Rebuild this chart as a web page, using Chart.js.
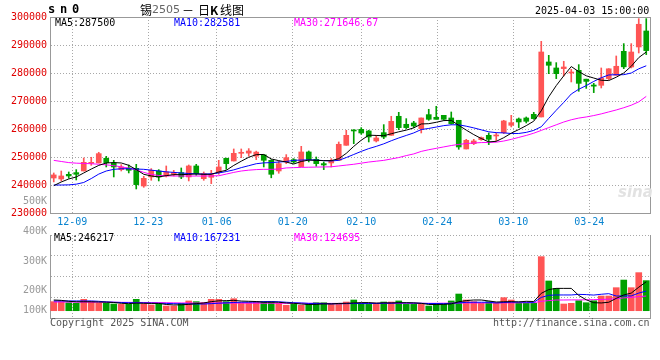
<!DOCTYPE html>
<html><head><meta charset="utf-8">
<script src="https://cdn.jsdelivr.net/npm/chart.js@4/dist/chart.umd.min.js"></script>
<style>
html,body{margin:0;padding:0;background:#fff;}
body{width:660px;height:360px;position:relative;overflow:hidden;font-family:"DejaVu Sans Mono",monospace;}
canvas{position:absolute;left:0;}
.t{position:absolute;white-space:nowrap;font-size:10px;line-height:12px;}
.cjk{position:absolute;white-space:nowrap;font-family:"Noto Sans CJK SC",sans-serif;font-size:12px;line-height:14px;}
</style></head><body>
<canvas id="main" width="660" height="231" style="top:0"></canvas>
<canvas id="vol" width="660" height="92" style="top:232px"></canvas>

<div class="t" style="left:48px;top:3px;font-size:12px;font-weight:bold;letter-spacing:-1.2px">s n 0</div>
<div class="cjk" style="left:140px;top:3px">锡</div>
<div class="t" style="left:152px;top:4px;font-family:'DejaVu Sans',sans-serif;font-size:11px;color:#666">2505</div>
<div class="cjk" style="left:182px;top:3px">－</div>
<div class="cjk" style="left:198px;top:3px">日</div>
<div class="cjk" style="left:210px;top:3px;font-weight:bold">K</div>
<div class="cjk" style="left:220px;top:3px">线</div>
<div class="cjk" style="left:232px;top:3px">图</div>
<div class="t" style="left:535px;top:5px;color:#000">2025-04-03 15:00:00</div>

<div class="t" style="left:55px;top:17px;color:#000">MA5:287500</div>
<div class="t" style="left:174px;top:17px;color:#0000ff">MA10:282581</div>
<div class="t" style="left:294px;top:17px;color:#ff00ff">MA30:271646.67</div>
<div class="t" style="left:23px;top:195px;color:#999">500K</div>
<div class="t" style="left:618px;top:186px;font-family:'DejaVu Sans',sans-serif;font-size:15px;font-style:italic;font-weight:bold;color:#e2e2e2">sina</div>

<div class="t" style="left:54px;top:232px;color:#000">MA5:246217</div>
<div class="t" style="left:174px;top:232px;color:#0000ff">MA10:167231</div>
<div class="t" style="left:294px;top:232px;color:#ff00ff">MA30:124695</div>
<div id="volLabels"></div>

<div class="t" style="left:50px;top:317px;color:#555">Copyright 2025 SINA.COM</div>
<div class="t" style="left:493px;top:317px;color:#555">http://finance.sina.com.cn</div>

<script>
const dates = ['12-04','12-05','12-06','12-09','12-10','12-11','12-12','12-13','12-16','12-17',
'12-18','12-19','12-20','12-23','12-24','12-25','12-26','12-27','12-30','12-31',
'01-02','01-03','01-06','01-07','01-08','01-09','01-10','01-13','01-14','01-15',
'01-16','01-17','01-20','01-21','01-22','01-23','01-24','01-27','02-05','02-06',
'02-07','02-10','02-11','02-12','02-13','02-14','02-17','02-18','02-19','02-20',
'02-21','02-24','02-25','02-26','02-27','02-28','03-03','03-04','03-05','03-06',
'03-07','03-10','03-11','03-12','03-13','03-14','03-17','03-18','03-19','03-20',
'03-21','03-24','03-25','03-26','03-27','03-28','03-31','04-01','04-02','04-03'];

const opens = [242500,242150,243820,244420,245010,247750,247870,249540,247870,245490,
246080,245960,239650,242870,245010,243230,243820,244420,242870,246800,
242270,242750,244650,249540,248580,251320,251380,250300,250780,248820,
245010,248230,249060,246560,251800,249180,247630,247870,248820,254180,
259540,259890,259300,255730,258700,257750,264540,261680,262150,260130,
265130,264180,264890,263940,263110,252870,254770,256200,257750,257510,
258700,261320,263580,263940,265250,264300,283940,281800,281560,280000,
280960,277800,275700,275600,278000,279180,287750,282150,289300,295010];

const highs = [244300,245000,244650,245490,249650,249900,251680,250250,248820,247270,
247150,247390,243110,245850,245490,246800,245250,246080,247150,247390,
244650,245250,248820,249600,252870,252870,252990,252100,250780,249060,
248460,250850,249400,253820,252150,250010,248230,249420,255370,259540,
259770,260490,259540,257750,261560,264540,265960,263700,262750,263940,
267040,268110,264890,266080,263110,256320,256320,257150,258580,258580,
263110,264890,263940,264300,265960,291320,286320,283700,284180,281320,
282990,277800,276300,281800,281560,286080,290490,290490,299420,299420];

const lows = [241100,241450,242400,241800,245010,247030,247870,246440,242870,245010,
244300,238580,239180,241680,241440,242870,243230,242270,241440,243460,
241680,240490,243820,245600,248580,249770,250300,249060,246440,242570,
244180,247630,247800,246560,248230,246680,245490,246440,248820,254180,
254770,258110,255370,255370,256560,257750,259770,260130,260490,258580,
263110,263460,263110,261680,252750,252870,254420,255960,254420,255730,
258350,260730,260490,262150,263460,264300,279770,277990,278940,276800,
273460,274500,272990,274650,277630,279180,281560,281800,287150,286560];

const closes = [243600,243230,243230,243820,248100,248000,251200,247990,246440,246440,
245250,240130,242390,245250,242870,244650,244420,242870,246800,244060,
244060,243700,246440,247630,251320,251680,252150,251750,248820,243820,
247630,249770,248230,251800,249060,247630,247150,248580,254540,257750,
259300,258580,257150,256800,257150,262750,260490,260490,261080,263940,
263460,263460,263460,261920,253580,255960,255730,256920,256320,257750,
262870,262270,262510,262750,263700,287510,282750,279770,282150,280300,
276300,277000,275300,278200,281500,282400,282200,287500,297400,288000];

const ma5 = [239770,241080,242150,242870,244300,245700,247000,247870,248000,247870,
247030,245500,243820,243230,242870,243350,243700,243700,243820,243940,
243820,243820,244650,245250,247000,248500,249900,250850,250900,249300,
248700,248200,247500,248400,248900,248800,248700,248700,249400,251300,
253800,256000,257800,257700,257600,258300,259000,259600,260400,261800,
261900,262400,263000,263100,261300,259600,258000,256600,255400,255600,
256900,258500,259800,261200,262800,266500,271500,275500,279000,282300,
280500,279000,278200,277400,277300,278500,280000,282400,285500,287500];

const ma10 = [240000,240000,240050,240300,240900,242300,243900,245000,245600,245800,
245800,245700,245600,245300,245000,244700,244500,244300,244100,244000,
243900,244000,244300,244800,245400,246200,246900,247600,247900,248000,
248200,248400,248800,248900,249000,248900,248700,248600,248800,249800,
250900,252000,253000,253800,254700,255800,256800,257700,258600,259800,
260200,260700,261200,261500,261500,261000,260400,259700,259000,258700,
258600,258400,258400,258800,259500,260800,263800,266700,269500,272500,
274200,275500,277000,278300,279300,279400,279400,280000,281500,282581];

const ma30 = [248800,248400,248000,247800,247700,247600,247400,247200,246900,246500,
246000,245400,244500,243800,243400,243300,243200,243200,243200,243200,
243200,243250,243300,243900,244500,245000,245300,245500,245600,245600,
245700,246100,246200,246300,246350,246400,246450,246500,246800,247100,
247400,247800,248200,248500,248800,249300,249800,250500,251100,252000,
252600,253100,253600,254100,254500,254800,255000,255150,255200,255300,
255700,256300,257000,257700,258500,259500,260500,261500,262500,263300,
263900,264300,264800,265400,266100,266800,267600,268500,269700,271647];

const volumes = [77000,77000,68000,63000,97000,77000,63000,63000,57000,54000,
54000,97000,57000,49000,57000,40000,40000,63000,83000,77000,
68000,97000,97000,77000,102000,68000,68000,77000,77000,77000,
63000,46000,54000,46000,57000,68000,68000,54000,63000,74000,
91000,63000,54000,54000,74000,74000,83000,54000,54000,54000,
40000,63000,54000,83000,142000,91000,77000,63000,77000,63000,
111000,91000,63000,63000,63000,460000,253000,190000,57000,63000,
85000,68000,85000,125000,125000,196000,261000,196000,324000,256000];

const volMa5 = [91000,88000,80000,76000,76000,76000,74000,73000,70000,63000,
60000,65000,63000,62000,62000,53000,49000,50000,54000,60000,
66000,77000,84000,86000,88000,82000,80000,78000,72000,73000,
72000,66000,63000,57000,53000,54000,58000,58000,62000,63000,
66000,69000,69000,65000,67000,66000,68000,68000,67000,63000,
53000,53000,54000,58000,76000,86000,91000,91000,83000,74000,
76000,77000,75000,80000,78000,148000,180000,190000,190000,190000,
130000,93000,68000,66000,72000,105000,134000,150000,200000,246217];

const volMa10 = [83000,83000,83000,83000,83000,83000,80000,75000,72000,70000,
68000,68000,67000,65000,63000,62000,60000,58000,58000,57000,
57000,60000,64000,67000,70000,72000,72000,74000,77000,78000,
76000,72000,68000,66000,62000,62000,60000,58000,59000,60000,
61000,61000,61000,61000,63000,64000,66000,66000,65000,63000,
61000,61000,60000,62000,67000,71000,72000,72000,72000,66000,
70000,73000,73000,72000,71000,113000,131000,134000,134000,134000,
139000,137000,133000,140000,145000,125000,126000,126000,150000,167231];

const volMa30 = [74000,74000,74000,73000,73000,73000,72000,72000,72000,71000,
71000,70000,70000,69000,69000,68000,67000,66000,66000,65000,
65000,65000,65000,65000,65000,65000,64000,64000,64000,64000,
63000,63000,63000,63000,63000,63000,62000,62000,62000,62000,
62000,63000,63000,63000,63000,63000,63000,63000,63000,63000,
63000,63000,64000,64000,65000,66000,66000,66000,66000,67000,
67000,67000,67000,68000,68000,80000,86000,91000,91000,92000,
92000,93000,94000,96000,98000,102000,109000,113000,120000,124695];

const priceMin = 230000, priceMax = 300000, priceStep = 10000;
const dateTickIdx = [3,13,22,32,41,51,61,71];
const volTickLabels = ['400K','300K','200K','100K'];

const UP = '#ff5555', DOWN = '#00a000', GRID = '#a8a8a8', AXIS = '#999999';
const MONO = 'DejaVu Sans Mono';
const candleColors = dates.map((d,i) => closes[i] >= opens[i] ? UP : DOWN);
const gridXMin = 0.067, gridXMax = 78.98;

// volume axis labels (sina places them independent of the bar scale)
const volLabelTops = [225, 255, 284, 304];
const vl = document.getElementById('volLabels');
volTickLabels.forEach((s,i) => {
  const d = document.createElement('div');
  d.className = 't'; d.style.left = '23px'; d.style.top = volLabelTops[i] + 'px'; d.style.color = '#999';
  d.textContent = s; vl.appendChild(d);
});

function boxAxis(pos){
  return {type:'linear', position:pos, display:true,
    ticks:{display:false}, grid:{display:false, drawTicks:false},
    border:{display:true, color:AXIS, width:1},
    afterFit(s){ if(pos==='top'||pos==='bottom') s.height=0; else s.width=0; }};
}
function gridXAxis(showLabels){
  return {type:'linear', position:'bottom', min:gridXMin, max:gridXMax,
    afterBuildTicks(s){ s.ticks = dateTickIdx.map(v => ({value:v})); },
    ticks:{display:showLabels, autoSkip:false, maxRotation:0, padding:3, color:'#0a84d0',
      font:{family:MONO, size:10}, callback:v => dates[v]},
    grid:{color:GRID, drawTicks:false, lineWidth:1},
    border:{color:AXIS, dash:[1,2]},
    afterFit(s){ s.height = showLabels ? 18 : 0; }};
}
const lineDs = (data, color) => ({type:'line', data, borderColor:color, borderWidth:1,
  pointRadius:0, tension:0, fill:false, order:0, xAxisID:'x', yAxisID:'y'});

new Chart(document.getElementById('main'), {
  data:{labels:dates, datasets:[
    lineDs(ma5,'#000000'), lineDs(ma10,'#0000ff'), lineDs(ma30,'#ff00ff'),
    {type:'bar', data:dates.map((d,i)=>[Math.min(opens[i],closes[i]), Math.max(opens[i],closes[i])]),
      backgroundColor:candleColors, barThickness:5, grouped:false, minBarLength:1, order:1, xAxisID:'x', yAxisID:'y'},
    {type:'bar', data:dates.map((d,i)=>[lows[i], highs[i]]),
      backgroundColor:candleColors, barThickness:1, grouped:false, order:2, xAxisID:'x', yAxisID:'y'}
  ]},
  options:{responsive:false, animation:false, events:[],
    layout:{padding:{left:0, right:10, top:17, bottom:0}},
    plugins:{legend:{display:false}, tooltip:{enabled:false}},
    scales:{
      x:{type:'category', display:false, offset:true},
      xg:gridXAxis(true),
      xt:boxAxis('top'),
      y:{type:'linear', position:'left', min:priceMin, max:priceMax,
        ticks:{stepSize:priceStep, color:'#e00000', padding:3, font:{family:MONO, size:10}, callback:v=>String(v)},
        grid:{color:GRID, drawTicks:false}, border:{color:AXIS, dash:[1,2]},
        afterFit(s){ s.width = 50; }},
      yr:boxAxis('right')
    }}
});

new Chart(document.getElementById('vol'), {
  data:{labels:dates, datasets:[
    lineDs(volMa5,'#000000'), lineDs(volMa10,'#0000ff'), lineDs(volMa30,'#ff00ff'),
    {type:'bar', data:volumes, backgroundColor:candleColors, barThickness:6, order:1, xAxisID:'x', yAxisID:'y'}
  ]},
  options:{responsive:false, animation:false, events:[],
    layout:{padding:{left:0, right:10, top:3, bottom:6}},
    plugins:{legend:{display:false}, tooltip:{enabled:false}},
    scales:{
      x:{type:'category', display:false, offset:true},
      xg:Object.assign(gridXAxis(false), {border:{color:AXIS, dash:[1,2], display:true}}),
      y:{type:'linear', position:'left', min:-62100, max:644300,
        ticks:{display:false, count:5}, grid:{color:GRID, drawTicks:false}, border:{color:AXIS, dash:[1,2]},
        afterFit(s){ s.width = 50; }},
      yr:boxAxis('right')
    }}
});
</script>
</body></html>
